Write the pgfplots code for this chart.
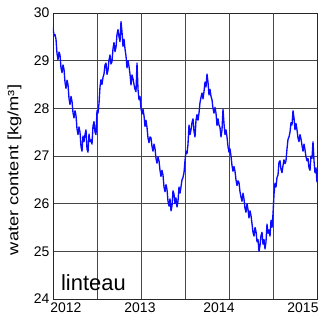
\documentclass[border=0pt]{standalone}
\usepackage{graphicx}
\usepackage{pgfplots}
\pgfplotsset{compat=1.18}
\usepackage{fontspec}
\setmainfont{Liberation Sans}
\begin{document}
\begin{tikzpicture}
\begin{axis}[name=ax, at={(0,0)}, anchor=south west,
  scale only axis, width=264bp, height=286bp,
  xmin=53, xmax=317, ymin=24, ymax=30,
  clip mode=individual,
  xtick={66,140,219,303}, xticklabels={2012,2013,2014,2015},
  extra x ticks={97,141,185,229,273}, extra x tick labels={},
  extra x tick style={grid=major},
  ytick={24,25,...,30}, ymajorgrids,
  major grid style={draw=black!72, line width=0.9pt},
  major tick length=0pt,
  tick label style={font=\fontsize{14}{16}\selectfont},
  /pgf/number format/assume math mode=true,
  axis line style={draw=black!85, line width=1pt},
]
\addplot[draw={rgb,255:red,10;green,10;blue,255}, line width=1.35pt, mark=none, line join=round] coordinates {
(53,29.70)(54,29.52)(55,29.55)(56,29.45)(57,29.15)(58,29.02)(59,29.18)(60,29.12)(61,28.85)(62,28.75)
(63,28.91)(64,28.82)(65,28.55)(66,28.42)(67,28.59)(68,28.50)(69,28.21)(70,28.08)(71,28.25)(72,28.15)
(73,27.91)(74,27.80)(75,27.95)(76,27.85)(77,27.57)(78,27.45)(79,27.61)(80,27.50)(81,27.20)(82,27.10)
(83,27.42)(84,27.30)(85,27.45)(86,27.55)(87,27.15)(88,27.08)(89,27.46)(90,27.30)(91,27.34)(92,27.25)
(93,27.63)(94,27.72)(95,27.50)(96,27.45)(97,27.95)(98,27.90)(99,28.10)(100,28.45)(101,28.60)(102,28.50)
(103,28.65)(104,28.72)(105,28.91)(106,28.95)(107,28.71)(108,28.80)(109,29.01)(110,29.12)(111,28.93)(112,28.98)
(113,29.25)(114,29.38)(115,29.19)(116,29.28)(117,29.55)(118,29.65)(119,29.50)(120,29.40)(121,29.82)(122,29.60)
(123,29.30)(124,29.45)(125,29.25)(126,29.10)(127,28.85)(128,29.00)(129,28.88)(130,28.72)(131,28.49)(132,28.70)
(133,28.62)(134,28.50)(135,28.40)(136,28.35)(137,28.95)(138,28.40)(139,28.18)(140,28.25)(141,28.00)(142,27.88)
(143,27.98)(144,27.85)(145,27.62)(146,27.75)(147,27.60)(148,27.38)(149,27.28)(150,27.40)(151,27.38)(152,27.20)
(153,27.10)(154,27.25)(155,27.16)(156,26.95)(157,26.85)(158,26.98)(159,26.90)(160,26.70)(161,26.57)(162,26.70)
(163,26.60)(164,26.35)(165,26.25)(166,26.40)(167,26.30)(168,26.05)(169,25.95)(170,26.10)(171,25.85)(172,25.95)
(173,26.27)(174,26.20)(175,26.00)(176,26.12)(177,25.93)(178,26.05)(179,26.35)(180,26.22)(181,26.35)(182,26.50)
(183,26.55)(184,26.65)(185,26.90)(186,27.10)(187,27.05)(188,27.25)(189,27.65)(190,27.45)(191,27.55)(192,27.70)
(193,27.78)(194,27.52)(195,27.40)(196,27.75)(197,27.87)(198,27.75)(199,27.90)(200,28.12)(201,28.23)(202,28.32)
(203,28.20)(204,28.35)(205,28.55)(206,28.45)(207,28.72)(208,28.55)(209,28.28)(210,28.40)(211,28.25)(212,28.18)
(213,28.00)(214,27.90)(215,28.02)(216,27.90)(217,27.64)(218,27.78)(219,27.65)(220,27.60)(221,27.40)(222,27.55)
(223,27.98)(224,27.68)(225,27.45)(226,27.55)(227,27.40)(228,27.20)(229,27.08)(230,27.15)(231,27.00)(232,26.80)
(233,26.68)(234,26.78)(235,26.68)(236,26.50)(237,26.38)(238,26.48)(239,26.44)(240,26.25)(241,26.14)(242,26.05)
(243,26.22)(244,26.10)(245,25.90)(246,25.82)(247,26.00)(248,25.88)(249,25.70)(250,25.85)(251,25.75)(252,25.58)
(253,25.40)(254,25.32)(255,25.50)(256,25.42)(257,25.20)(258,25.25)(259,25.00)(260,25.12)(261,25.33)(262,25.40)
(263,25.15)(264,25.25)(265,25.05)(266,25.20)(267,25.57)(268,25.38)(269,25.45)(270,25.32)(271,25.65)(272,25.50)
(273,25.78)(274,26.20)(275,26.43)(276,26.35)(277,26.55)(278,26.60)(279,26.87)(280,26.90)(281,26.72)(282,26.65)
(283,26.80)(284,26.92)(285,26.84)(286,26.90)(287,27.15)(288,27.35)(289,27.40)(290,27.50)(291,27.70)(292,27.65)
(293,27.95)(294,27.80)(295,27.55)(296,27.68)(297,27.55)(298,27.38)(299,27.30)(300,27.45)(301,27.36)(302,27.22)
(303,27.10)(304,27.25)(305,27.13)(306,26.98)(307,26.90)(308,26.95)(309,26.75)(310,26.70)(311,27.00)(312,26.95)
(313,27.30)(314,26.90)(315,26.65)(316,26.75)(317,26.45)
};
\node[anchor=base west, font=\fontsize{22}{24}\selectfont, inner sep=0pt] at (rel axis cs:0.030,0.031) {linteau};
\node[rotate=90, anchor=center, inner sep=0pt] at (rel axis cs:-0.146,0.451) {\scalebox{1.22}[1]{\fontsize{15}{17}\selectfont water content [kg/m³]}};
\end{axis}
\pgfresetboundingbox
\path (ax.south west) ++(-53bp,-23bp) rectangle ++(319bp,322bp);
\end{tikzpicture}
\end{document}
